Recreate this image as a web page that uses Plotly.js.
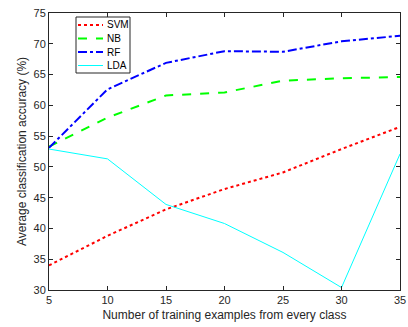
<!DOCTYPE html>
<html><head><meta charset="utf-8">
<script src="https://cdn.plot.ly/plotly-3.0.1.min.js"></script>
<style>body{margin:0;background:#fff}#c{width:408px;height:327px}</style>
</head><body><div id="c"></div>
<script>
const xVals = [5, 10, 15, 20, 25, 30, 35];
const svm = [34.0, 38.8, 43.1, 46.4, 49.1, 52.9, 56.5];
const nb  = [53.3, 58.0, 61.6, 62.1, 64.0, 64.4, 64.6];
const rf  = [53.1, 62.6, 66.9, 68.8, 68.7, 70.4, 71.3];
const lda = [52.9, 51.3, 43.9, 40.8, 36.1, 30.4, 52.1];
const names = ['SVM', 'NB', 'RF', 'LDA'];
const xTicks = [5, 10, 15, 20, 25, 30, 35];
const yTicks = [30, 35, 40, 45, 50, 55, 60, 65, 70, 75];

const styles = [
  {color: '#ff0000', width: 2, dash: 'dot'},
  {color: '#00ff00', width: 2, dash: 'dash'},
  {color: '#0000ff', width: 2, dash: 'dashdot'},
  {color: '#00ffff', width: 1, dash: 'solid'}
];
const series = [svm, nb, rf, lda];
const traces = series.map((s, i) => ({x: xVals, y: s, name: names[i], mode: 'lines', line: styles[i], showlegend: false}));

// plot area in pixels
const L = 49, R = 8, T = 13, B = 37, W = 408, H = 327;
const pw = W - L - R, ph = H - T - B;
const fx = p => (p - L) / pw;
const fy = p => (H - B - p) / ph;

// compact legend (MATLAB-style)
const shapes = [{type: 'rect', xref: 'paper', yref: 'paper', x0: fx(76), x1: fx(130), y0: fy(73), y1: fy(17),
  line: {color: '#262626', width: 1}, fillcolor: '#ffffff', layer: 'above'}];
const annotations = [];
const rowY = [25, 38.5, 52, 65.5];
names.forEach((n, i) => {
  shapes.push({type: 'line', xref: 'paper', yref: 'paper', x0: fx(78), x1: fx(103), y0: fy(rowY[i]), y1: fy(rowY[i]),
    line: styles[i], layer: 'above'});
  annotations.push({xref: 'paper', yref: 'paper', x: fx(105), y: fy(rowY[i]), xanchor: 'left', yanchor: 'middle',
    text: n, showarrow: false, font: {family: 'Liberation Sans, Arial', size: 10, color: '#000000'}});
});

const axisCommon = {
  showgrid: false, zeroline: false, showline: true, mirror: 'ticks',
  linecolor: '#262626', linewidth: 1, ticks: 'inside', ticklen: 4, tickcolor: '#262626',
  tickfont: {family: 'Liberation Sans, Arial', size: 11, color: '#262626'}
};
const layout = {
  width: W, height: H,
  margin: {l: L, r: R, t: T, b: B},
  paper_bgcolor: '#ffffff', plot_bgcolor: '#ffffff',
  font: {family: 'Liberation Sans, Arial', color: '#262626'},
  xaxis: Object.assign({}, axisCommon, {
    range: [5, 35], tickvals: xTicks, ticktext: xTicks.map(String),
    title: {text: 'Number of training examples from every class', font: {size: 12, color: '#262626'}, standoff: 5}
  }),
  yaxis: Object.assign({}, axisCommon, {
    range: [30, 75], tickvals: yTicks, ticktext: yTicks.map(String),
    title: {text: 'Average classification accuracy (%)', font: {size: 12, color: '#262626'}, standoff: 4}
  }),
  showlegend: false,
  shapes: shapes,
  annotations: annotations
};
Plotly.newPlot('c', traces, layout, {displayModeBar: false, staticPlot: true});
</script></body></html>
